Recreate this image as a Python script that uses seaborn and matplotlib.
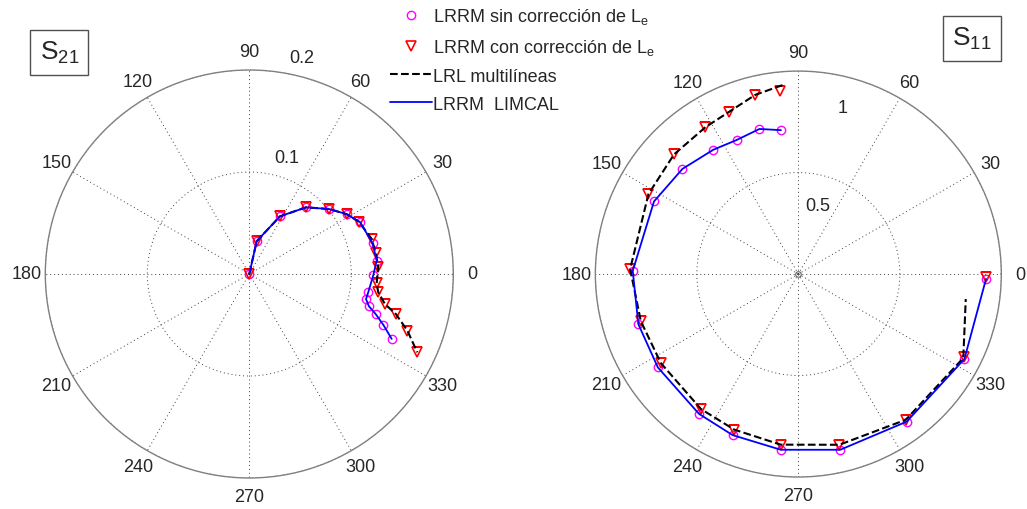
import numpy as np
import matplotlib
matplotlib.use("Agg")
import matplotlib.pyplot as plt
import seaborn as sns

sns.set_style("white")
plt.rcParams['font.family'] = ['Liberation Sans', 'DejaVu Sans']
plt.rcParams['mathtext.fontset'] = 'custom'
plt.rcParams['mathtext.rm'] = 'Liberation Sans'
plt.rcParams['mathtext.it'] = 'Liberation Sans:italic'

# ---- S21 (angulo en grados, magnitud) ----
s21_sin_ang = [77.3, 77.3, 62.0, 49.6, 39.2, 31.6, 25.0, 14.0, 6.0, -0.5, -8.7, -12.1, -15.1, -17.6, -20.8, -24.5]
s21_sin_mag = [0.0, 0.033, 0.064, 0.0858, 0.1008, 0.112, 0.120, 0.1245, 0.1256, 0.1216, 0.118, 0.117, 0.1215, 0.130, 0.1406, 0.1534]
s21_con_ang = [77.3, 77.3, 62.0, 49.6, 39.2, 31.6, 25.5, 16.0, 9.4, 3.2, -4.2, -8.1, -12.5, -15.3, -19.7, -25.0]
s21_con_mag = [0.0, 0.0329, 0.064, 0.0858, 0.1008, 0.112, 0.119, 0.1248, 0.1256, 0.1266, 0.1252, 0.1277, 0.1362, 0.149, 0.1646, 0.1817]
s21_lrl_ang = s21_con_ang
s21_lrl_mag = s21_con_mag
s21_lim_ang = s21_sin_ang
s21_lim_mag = s21_sin_mag

# ---- S11 ----
s11_sin_ang = [96.9, 105.0, 114.7, 124.4, 137.8, 153.3, 178.9, 197.4, 213.6, 234.6, 247.8, 264.3, 283.4, 306.3, 332.9, 358.5]
s11_sin_mag = [0.714, 0.740, 0.727, 0.742, 0.771, 0.796, 0.816, 0.826, 0.831, 0.845, 0.857, 0.870, 0.890, 0.902, 0.919, 0.925]
s11_con_ang = [95.7, 103.5, 113.1, 122.4, 136.1, 151.9, 178.3, 196.7, 213.0, 234.2, 247.6, 264.1, 283.5, 306.4, 333.3, 359.0]
s11_con_mag = [0.904, 0.908, 0.869, 0.856, 0.850, 0.837, 0.829, 0.810, 0.807, 0.820, 0.829, 0.845, 0.865, 0.892, 0.914, 0.925]
s11_lrl_ang = [94.8, 103.5, 113.1, 122.4, 136.1, 151.9, 178.3, 196.7, 213.0, 234.2, 247.6, 264.1, 283.5, 306.4, 333.0, 351.5]
s11_lrl_mag = [0.934, 0.908, 0.869, 0.856, 0.850, 0.837, 0.829, 0.810, 0.807, 0.820, 0.829, 0.845, 0.865, 0.892, 0.912, 0.834]
s11_lim_ang = s11_sin_ang
s11_lim_mag = s11_sin_mag

angulos = list(range(0, 360, 30))
etiquetas = [str(a) for a in angulos]

fig = plt.figure(figsize=(10.27, 5.10), dpi=100)
ax1 = fig.add_axes([0.0441, 0.0608, 0.3973, 0.80], projection='polar')
ax2 = fig.add_axes([0.5797, 0.0627, 0.3953, 0.796], projection='polar')


def dibujar(ax, sin_a, sin_m, con_a, con_m, lrl_a, lrl_m, lim_a, lim_m):
    sns.lineplot(x=np.deg2rad(sin_a), y=sin_m, ax=ax, sort=False, estimator=None,
                 linestyle='', marker='o', ms=6, mfc='none', mec='#ff00ff', mew=1.0,
                 label='LRRM sin corrección de L$_\\mathrm{e}$')
    sns.lineplot(x=np.deg2rad(con_a), y=con_m, ax=ax, sort=False, estimator=None,
                 linestyle='', marker='v', ms=7, mfc='none', mec='#ff0000', mew=1.2,
                 label='LRRM con corrección de L$_\\mathrm{e}$')
    sns.lineplot(x=np.deg2rad(lrl_a), y=lrl_m, ax=ax, sort=False, estimator=None,
                 color='black', linestyle='--', lw=1.5, dashes=(4, 3),
                 label='LRL multilíneas')
    sns.lineplot(x=np.deg2rad(lim_a), y=lim_m, ax=ax, sort=False, estimator=None,
                 color='#0000ff', lw=1.3, label='LRRM  LIMCAL')
    if ax.get_legend() is not None:
        ax.get_legend().remove()
    ax.set_thetagrids(angulos, etiquetas, fontsize=13)
    ax.tick_params(axis='x', pad=3)
    ax.grid(True, linestyle=(0, (1, 3)), color='#404040', lw=0.7)
    ax.spines['polar'].set_color('#808080')
    ax.spines['polar'].set_linewidth(1.0)
    ax.set_xlabel('')
    ax.set_ylabel('')


dibujar(ax1, s21_sin_ang, s21_sin_mag, s21_con_ang, s21_con_mag,
        s21_lrl_ang, s21_lrl_mag, s21_lim_ang, s21_lim_mag)
dibujar(ax2, s11_sin_ang, s11_sin_mag, s11_con_ang, s11_con_mag,
        s11_lrl_ang, s11_lrl_mag, s11_lim_ang, s11_lim_mag)

ax1.set_ylim(0, 0.2)
ax1.set_yticks([0.1, 0.2])
ax1.set_yticklabels([])
ax2.set_ylim(0, 1.0)
ax2.set_yticks([0.5, 1.0])
ax2.set_yticklabels([])

# marca en el centro del S11
ax2.plot([0], [0], marker='o', ms=4, mfc='none', mec='#606060', mew=0.8, ls='')

# etiquetas de los anillos
ax1.text(np.deg2rad(72.3), 0.1196, '0.1', fontsize=13, ha='center', va='center', clip_on=False)
ax1.text(np.deg2rad(76.5), 0.2186, '0.2', fontsize=13, ha='center', va='center', clip_on=False)
ax2.text(np.deg2rad(74.3), 0.353, '0.5', fontsize=13, ha='center', va='center', clip_on=False)
ax2.text(np.deg2rad(75.2), 0.849, '1', fontsize=13, ha='center', va='center', clip_on=False)

# cajas S21 / S11
caja = dict(boxstyle='square,pad=0.35', fc='white', ec='#505050', lw=1.0)
fig.text(59.3 / 1027, 1 - 53.3 / 510, 'S$_\\mathrm{21}$', fontsize=19, ha='center', va='center', bbox=caja)
fig.text(971.8 / 1027, 1 - 39.2 / 510, 'S$_\\mathrm{11}$', fontsize=19, ha='center', va='center', bbox=caja)

h, l = ax1.get_legend_handles_labels()
fig.legend(h, l, loc='upper left', bbox_to_anchor=(390 / 1027, 1 - 7 / 510), frameon=False,
           fontsize=13, handlelength=2.3, handletextpad=0.1, labelspacing=0.6,
           borderpad=0, borderaxespad=0)

fig.savefig('out.png', dpi=100)
